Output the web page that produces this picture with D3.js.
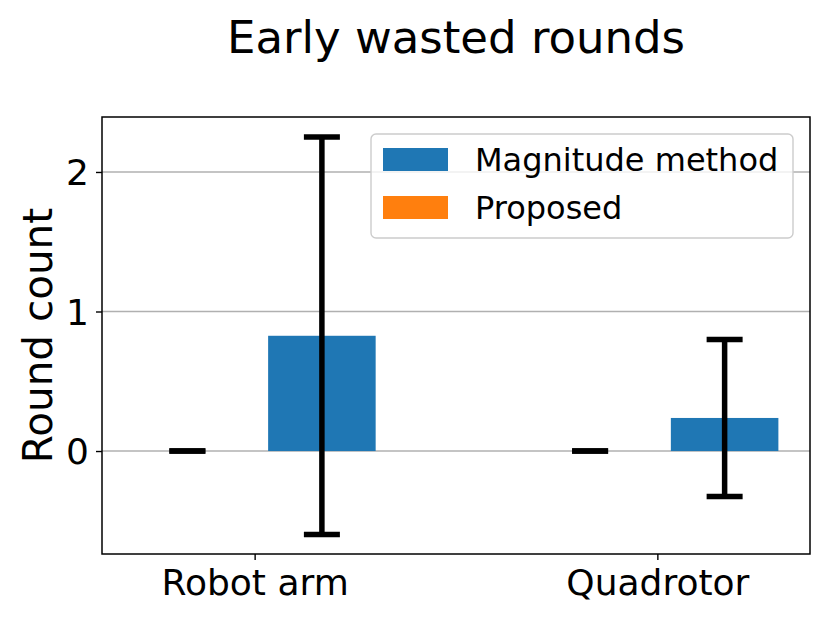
<!DOCTYPE html>
<html>
<head>
<meta charset="utf-8">
<script src="https://cdn.jsdelivr.net/npm/d3@7"></script>
<style>
  body { margin: 0; background: #fff; }
  text { font-family: "DejaVu Sans", sans-serif; fill: #000; }
</style>
</head>
<body>
<div id="chart"></div>
<script>
// chart data
const categories = ["Robot arm", "Quadrotor"];
const seriesNames = ["Magnitude method", "Proposed"];
const magnitudeMean = [0.826, 0.237];
const magnitudeErr = [1.424, 0.563];
const proposedMean = [0, 0];
const proposedErr = [0, 0];
const yTicks = [0, 1, 2];
const colors = { "Magnitude method": "#1f77b4", "Proposed": "#ff7f0e" };

const width = 830, height = 623;
const margin = { top: 117, right: 20, bottom: 69, left: 102 };
const innerW = width - margin.left - margin.right;
const innerH = height - margin.top - margin.bottom;

const svg = d3.select("#chart").append("svg")
  .attr("width", width)
  .attr("height", height);

const g = svg.append("g")
  .attr("transform", `translate(${margin.left},${margin.top})`);

// numeric x for categories
const x = d3.scaleLinear().domain([-0.379, 1.379]).range([0, innerW]);
const y = d3.scaleLinear().domain([-0.738, 2.394]).range([innerH, 0]);

const barW = 0.267;   // in category units
const offset = 0.167;

// grid
g.append("g")
  .selectAll("line")
  .data(yTicks)
  .join("line")
  .attr("x1", 0).attr("x2", innerW)
  .attr("y1", d => y(d)).attr("y2", d => y(d))
  .attr("stroke", "#b0b0b0")
  .attr("stroke-width", 1.4);

const series = [
  { name: "Proposed", mean: proposedMean, err: proposedErr, dx: -offset },
  { name: "Magnitude method", mean: magnitudeMean, err: magnitudeErr, dx: offset }
];

// bars
series.forEach(s => {
  g.append("g")
    .selectAll("rect")
    .data(s.mean)
    .join("rect")
    .attr("x", (d, i) => x(i + s.dx - barW / 2))
    .attr("width", x(barW) - x(0))
    .attr("y", d => y(Math.max(d, 0)))
    .attr("height", d => Math.abs(y(0) - y(d)))
    .attr("fill", colors[s.name]);
});

// error bars
const capHalf = 18;
series.forEach(s => {
  const eg = g.append("g");
  s.mean.forEach((m, i) => {
    const cx = x(i + s.dx);
    const lo = y(m - s.err[i]), hi = y(m + s.err[i]);
    if (s.err[i] > 0) {
      eg.append("line")
        .attr("x1", cx).attr("x2", cx)
        .attr("y1", lo).attr("y2", hi)
        .attr("stroke", "#000").attr("stroke-width", 5.5);
    }
    [lo, hi].forEach(yy => {
      eg.append("line")
        .attr("x1", cx - capHalf).attr("x2", cx + capHalf)
        .attr("y1", yy).attr("y2", yy)
        .attr("stroke", "#000").attr("stroke-width", 5.5);
    });
  });
});

// axes
const yAxis = g.append("g")
  .call(d3.axisLeft(y).tickValues(yTicks).tickFormat(d3.format("d")).tickSize(6).tickPadding(7));
yAxis.select(".domain").remove();
yAxis.selectAll("text").style("font-size", "36px").attr("dy", "0.35em");
yAxis.selectAll("line").attr("stroke-width", 1.4);

const xAxis = g.append("g")
  .attr("transform", `translate(0,${innerH})`)
  .call(d3.axisBottom(x).tickValues([0, 1]).tickFormat(i => categories[i]).tickSize(6).tickPadding(9));
xAxis.select(".domain").remove();
xAxis.selectAll("text").style("font-size", "36px");
xAxis.selectAll("line").attr("stroke-width", 1.4);

// frame
g.append("rect")
  .attr("width", innerW).attr("height", innerH)
  .attr("fill", "none").attr("stroke", "#000").attr("stroke-width", 1.5);

// axis label
svg.append("text")
  .attr("transform", `translate(52,${margin.top + innerH / 2}) rotate(-90)`)
  .attr("text-anchor", "middle")
  .style("font-size", "40.5px")
  .text("Round count");

// title
svg.append("text")
  .attr("x", margin.left + innerW / 2)
  .attr("y", 53)
  .attr("text-anchor", "middle")
  .style("font-size", "45px")
  .text("Early wasted rounds");

// legend
const legend = svg.append("g").attr("transform", "translate(371,134)");
legend.append("rect")
  .attr("width", 422).attr("height", 104)
  .attr("rx", 5)
  .attr("fill", "rgba(255,255,255,0.8)")
  .attr("stroke", "#cccccc").attr("stroke-width", 1.4);

seriesNames.forEach((name, i) => {
  const row = legend.append("g").attr("transform", `translate(0,${14 + i * 48})`);
  row.append("rect")
    .attr("x", 12).attr("width", 65).attr("height", 23)
    .attr("fill", colors[name]);
  row.append("text")
    .attr("x", 104).attr("y", 11.5).attr("dy", "0.35em")
    .style("font-size", "32px")
    .text(name);
});
</script>
</body>
</html>
